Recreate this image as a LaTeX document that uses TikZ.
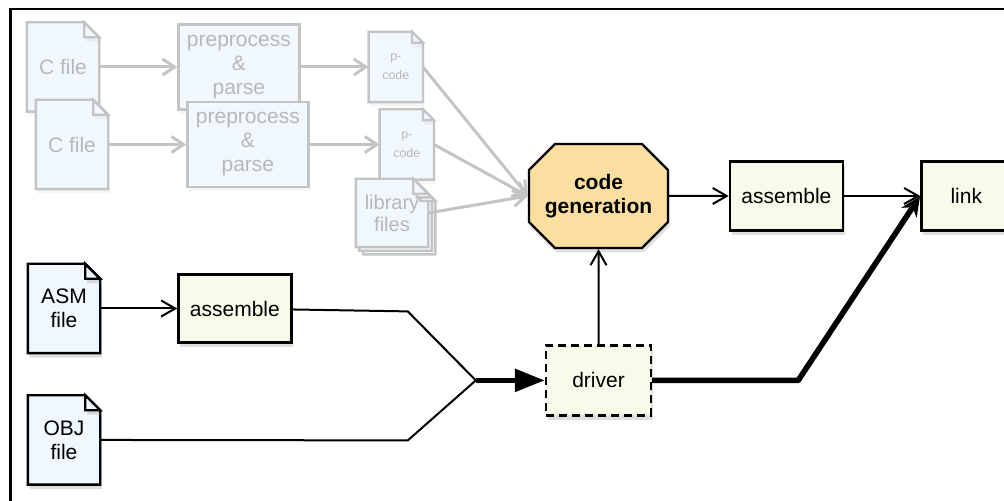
\documentclass[tikz,border=0pt]{standalone}
\usepackage{fontspec}
\setmainfont{Liberation Sans}
\usetikzlibrary{arrows.meta}
\usetikzlibrary{positioning}
\usetikzlibrary{shapes.misc}
\usetikzlibrary{shadows}

\definecolor{docfill}{RGB}{240,247,253}
\definecolor{boxfill}{RGB}{247,251,234}
\definecolor{genfill}{RGB}{250,223,160}
\definecolor{fadeline}{RGB}{196,196,196}
\definecolor{fadetext}{RGB}{184,184,184}

% a sheet of paper with a folded top right corner
\makeatletter
\pgfkeys{/pgf/paperdoc ear/.initial = 7pt}
\pgfdeclareshape{paperdoc}{
  \inheritsavedanchors[from=rectangle]
  \inheritanchorborder[from=rectangle]
  \inheritanchor[from=rectangle]{center}
  \inheritanchor[from=rectangle]{text}
  \inheritanchor[from=rectangle]{base}
  \inheritanchor[from=rectangle]{mid}
  \inheritanchor[from=rectangle]{north}
  \inheritanchor[from=rectangle]{south}
  \inheritanchor[from=rectangle]{east}
  \inheritanchor[from=rectangle]{west}
  \inheritanchor[from=rectangle]{north east}
  \inheritanchor[from=rectangle]{north west}
  \inheritanchor[from=rectangle]{south east}
  \inheritanchor[from=rectangle]{south west}
  \backgroundpath{
    \southwest \edef\docxa{\the\pgf@x}\edef\docya{\the\pgf@y}
    \northeast \edef\docxb{\the\pgf@x}\edef\docyb{\the\pgf@y}
    \edef\docear{\pgfkeysvalueof{/pgf/paperdoc ear}}
    \pgfpathmoveto{\pgfpoint{\docxa}{\docya}}
    \pgfpathlineto{\pgfpoint{\docxa}{\docyb}}
    \pgfpathlineto{\pgfpoint{\docxb-\docear}{\docyb}}
    \pgfpathlineto{\pgfpoint{\docxb}{\docyb-\docear}}
    \pgfpathlineto{\pgfpoint{\docxb}{\docya}}
    \pgfpathclose
  }
  \foregroundpath{
    \northeast \edef\docxb{\the\pgf@x}\edef\docyb{\the\pgf@y}
    \edef\docear{\pgfkeysvalueof{/pgf/paperdoc ear}}
    \pgfpathmoveto{\pgfpoint{\docxb-\docear}{\docyb}}
    \pgfpathlineto{\pgfpoint{\docxb-\docear}{\docyb-\docear}}
    \pgfpathlineto{\pgfpoint{\docxb}{\docyb-\docear}}
    \pgfpathclose
  }
}
\makeatother

\tikzset{
  flow node/.style = {
    draw = black,
    line width = 1.2pt,
    align = center,
    inner sep = 0,
    font = \fontsize{10.5}{12}\selectfont
  },
  main shadow/.style = {
    drop shadow = {opacity = 0.25, shadow xshift = 0.8pt, shadow yshift = -2.2pt}
  },
  faint shadow/.style = {
    drop shadow = {opacity = 0.08, shadow xshift = 0.8pt, shadow yshift = -2.2pt}
  },
  % a file
  docfile/.style = {
    flow node,
    paperdoc,
    /pgf/paperdoc ear = 7.5pt,
    fill = docfill,
    minimum width = 35pt,
    minimum height = 43.5pt
  },
  solidfile/.style = {
    docfile,
    main shadow
  },
  fadefile/.style = {
    docfile,
    faint shadow,
    draw = fadeline,
    text = fadetext
  },
  pcode/.style = {
    docfile,
    faint shadow,
    draw = fadeline,
    text = fadetext,
    /pgf/paperdoc ear = 5.5pt,
    minimum width = 26pt,
    minimum height = 34pt,
    font = \fontsize{6.2}{9.5}\selectfont
  },
  libstack/.style = {
    docfile,
    draw = fadeline,
    text = fadetext,
    double copy shadow = {shadow xshift = 1.8pt, shadow yshift = -1.8pt,
                          draw = fadeline, fill = docfill, line width = 1.2pt},
    minimum height = 33pt,
    font = \fontsize{10}{11}\selectfont
  },
  % plain step box
  stepbox/.style = {
    flow node,
    rectangle,
    fill = boxfill,
    main shadow,
    minimum width = 56.5pt,
    minimum height = 34.5pt
  },
  prepbox/.style = {
    flow node,
    rectangle,
    fill = docfill,
    faint shadow,
    draw = fadeline,
    text = fadetext,
    minimum width = 60.5pt,
    minimum height = 42.5pt
  },
  genbox/.style = {
    flow node,
    chamfered rectangle,
    chamfered rectangle xsep = 6.5pt,
    chamfered rectangle ysep = 6.5pt,
    fill = genfill,
    main shadow,
    minimum width = 69.5pt,
    minimum height = 52pt,
    font = \fontsize{10.5}{12}\selectfont\bfseries
  }
}
\tikzset{
  % connector with an open arrow
  arr/.style = {
    draw = black,
    line width = 1pt,
    -{Straight Barb[length = 7pt, width = 8pt]}
  },
  % connector with no arrow
  narr/.style = {
    draw = black,
    line width = 1pt
  },
  fadearr/.style = {
    draw = fadeline,
    line width = 1.5pt,
    -{Straight Barb[length = 6pt, width = 8pt]}
  },
  bigarr/.style = {
    draw = black,
    line width = 2.8pt,
    -{Triangle[length = 15pt, width = 11pt]}
  },
  linkarr/.style = {
    draw = black,
    line width = 2.8pt,
    line join = round,
    -{Stealth[length = 10pt, width = 9pt]}
  }
}

\begin{document}
\begin{tikzpicture}[x = 0.5pt, y = -0.5pt, node distance = 38pt]
  \useasboundingbox (0,0) rectangle (1004,501);
  \draw[line width = 1.2pt] (10.5,510) |- (1010,9);

  % faded front end
  \node[fadefile] (cfileA) at (63,67) {C file};
  \node[prepbox] (prepA) [right=39pt of cfileA] {preprocess\\\&\\parse};
  \node[pcode] (pcodeA) [right=34pt of prepA] {p-\\code};
  \node[fadefile] (cfileB) at (72,144.5) {C file};
  \node[prepbox] (prepB) [right=39pt of cfileB] {preprocess\\\&\\parse};
  \node[pcode] (pcodeB) [right=35pt of prepB] {p-\\code};
  \node[libstack] (libfiles) at (392,213) {library\\files};

  \node[genbox] (codegen) at (598.5,196) {code\\generation};
  \node[stepbox] (asmtop) [right=29.75pt of codegen] {assemble};
  \node[stepbox, minimum width = 45pt] (link) [right=of asmtop] {link};
  \node[stepbox, dashed, dash pattern = on 4pt off 2.5pt,
        minimum width = 52.5pt, minimum height = 35pt]
    (driver) [below=47.5pt of codegen] {driver};

  \node[solidfile] (asmfile) at (64,308.5) {ASM\\file};
  \node[stepbox, minimum height = 34pt] (asmbox) [right=38.5pt of asmfile] {assemble};
  \node[solidfile] (objfile) [below=21pt of asmfile] {OBJ\\file};

  \coordinate[left=34.5pt of driver] (merge);
  \coordinate[above left=34.5pt and 34pt of merge] (asmbend);
  \coordinate[below left=30pt and 34pt of merge] (objbend);
  \coordinate[right=73pt of driver] (linkbend);

  \draw[fadearr] (cfileA) -- (prepA);
  \draw[fadearr] (cfileB) -- (prepB);
  \draw[fadearr] (prepA) -- (pcodeA);
  \draw[fadearr] (prepB) -- (pcodeB);
  \draw[fadearr] (pcodeA.east) -- (codegen.west);
  \draw[fadearr] (pcodeB.east) -- (codegen.west);
  \draw[fadearr] (libfiles.east) -- (codegen.west);

  \draw[arr] (codegen) -- (asmtop);
  \draw[arr] (asmtop) -- (link);
  \draw[arr] (driver) -- (codegen);
  \draw[arr] (asmfile) -- (asmbox);
  \draw[narr] (asmbox) -- (asmbend) -- (merge);
  \draw[narr] (objfile) -- (objbend) -- (merge);
  \draw[bigarr] (merge) -- (driver);
  \draw[linkarr] (driver) -- (linkbend) -- (link.west);
\end{tikzpicture}
\end{document}
